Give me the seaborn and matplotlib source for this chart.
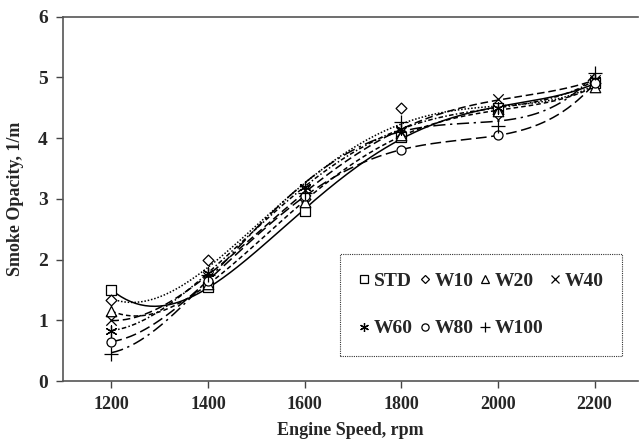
import numpy as np
import pandas as pd
import matplotlib
matplotlib.use("Agg")
import matplotlib.pyplot as plt
import seaborn as sns
from matplotlib.lines import Line2D

speed = [1200, 1400, 1600, 1800, 2000, 2200]
STD = [1.50, 1.55, 2.80, 4.02, 4.50, 4.90]
W10 = [1.33, 2.00, 3.00, 4.49, 4.40, 4.90]
W20 = [1.15, 1.60, 2.95, 4.05, 4.45, 4.85]
W40 = [1.00, 1.72, 3.15, 4.10, 4.65, 4.95]
W60 = [0.83, 1.78, 3.20, 4.15, 4.50, 4.95]
W80 = [0.65, 1.65, 3.05, 3.80, 4.05, 4.90]
W100 = [0.45, 1.75, 3.10, 4.27, 4.20, 5.07]
series_names = ["STD", "W10", "W20", "W40", "W60", "W80", "W100"]
series_vals = [STD, W10, W20, W40, W60, W80, W100]
x_ticks = [1200, 1400, 1600, 1800, 2000, 2200]
y_ticks = [0, 1, 2, 3, 4, 5, 6]

sns.set_style("white")
plt.rcParams['font.family'] = ['Liberation Serif', 'DejaVu Serif']
plt.rcParams['font.weight'] = 'bold'

markers = {"STD": "s", "W10": "D", "W20": "^", "W40": "x", "W60": (6, 2, 0),
           "W80": "o", "W100": "+"}
msizes = {"STD": 7.5, "W10": 5.5, "W20": 7.5, "W40": 7.5, "W60": 8, "W80": 6.5, "W100": 9.5}
lstyles = {"STD": "-", "W10": (0, (1, 1.2)), "W20": (0, (3, 2)), "W40": (0, (5, 2.5)),
           "W60": (0, (3, 1.5, 1, 1.5)), "W80": (0, (7, 3)), "W100": (0, (8, 3, 1.5, 3))}

fig = plt.figure(figsize=(6.39, 4.43), dpi=100)
ax = fig.add_axes([63 / 639, 1 - 381 / 443, 575 / 639, (381 - 16.7) / 443])

rows = []
for n, v in zip(series_names, series_vals):
    for xx, yy in zip(speed, v):
        rows.append({"speed": xx, "val": yy, "series": n})
df = pd.DataFrame(rows)

xs = np.linspace(1200, 2200, 200)
for n, v in zip(series_names, series_vals):
    coef = np.polyfit(speed, v, 4)
    ax.plot(xs, np.polyval(coef, xs), color="black", lw=1.1, ls=lstyles[n], zorder=2)

for n in series_names:
    sub = df[df.series == n]
    m = markers[n]
    filled = m in ("s", "D", "^", "o")
    sns.scatterplot(data=sub, x="speed", y="val", ax=ax, marker=m, s=msizes[n] ** 2,
                    facecolor="white" if filled else "black",
                    edgecolor="black", linewidth=0.9, zorder=3, legend=False)

# legend handles (row-major order for 4 columns)
handles = {}
for n in series_names:
    m = markers[n]
    filled = m in ("s", "D", "^", "o")
    handles[n] = Line2D([], [], ls="none", marker=m, markersize=msizes[n] * 0.8,
                        markerfacecolor="white" if filled else "black",
                        markeredgecolor="black", markeredgewidth=0.9)
order = ["STD", "W60", "W10", "W80", "W20", "W100", "W40"]
leg = ax.legend([handles[n] for n in order], order, ncol=4, loc="lower left",
                bbox_to_anchor=(0.482, 0.069, 0.49, 0.271), mode="expand",
                frameon=True, fancybox=False, handlelength=0.6, handletextpad=0.2,
                labelspacing=1.55, borderaxespad=0, borderpad=0.95,
                prop={"family": "Liberation Serif", "weight": "bold", "size": 14})
leg.get_frame().set_edgecolor("black")
leg.get_frame().set_linestyle((0, (1, 1)))
leg.get_frame().set_linewidth(0.8)

ax.set_xlim(1100, 2290)
ax.set_ylim(0, 6)
ax.set_xticks(x_ticks)
ax.set_yticks(y_ticks)
ax.set_xticklabels([str(t) for t in x_ticks], fontsize=13, fontweight="bold")
ax.set_yticklabels([str(t) for t in y_ticks], fontsize=14, fontweight="bold")
ax.tick_params(axis="both", direction="out", length=5, width=1, color="#444444", pad=6)
ax.tick_params(axis="y", left=True)
ax.tick_params(axis="x", bottom=True)
for s in ["left", "bottom", "top"]:
    ax.spines[s].set_color("#555555")
    ax.spines[s].set_linewidth(1.2)
ax.spines["right"].set_visible(False)
ax.set_xlabel("Engine Speed, rpm", fontsize=13, fontweight="bold", labelpad=6)
ax.set_ylabel("Smoke Opacity, 1/m", fontsize=13, fontweight="bold", labelpad=10)
ax.grid(False)

fig.savefig("out.png", dpi=100)
